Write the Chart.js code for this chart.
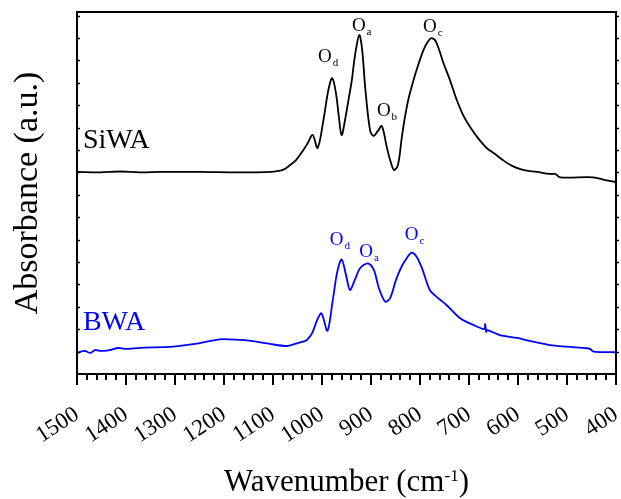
<!DOCTYPE html>
<html><head><meta charset="utf-8">
<script src="https://cdn.jsdelivr.net/npm/chart.js@4"></script>
<style>html,body{margin:0;padding:0;background:#fff}canvas{display:block}</style>
</head><body>
<canvas id="c" width="621" height="499"></canvas>
<script>
// ---- Data ----
const seriesNames = ['SiWA', 'BWA'];
const seriesColors = ['#000000', '#0000ff'];

const siwaWavenumber = [1500,1453,1412,1371,1331,1249,1167,1106,1080,1065,1053,1038,1029,1019,1009,997,987,979,971,966,960,953,946,939,933,924,918,912,902,895,886,878,868,861,853,845,837,831,824,816,807,793,783,776,767,752,739,725,712,698,682,664,647,631,612,590,561,535,524,514,447,422,400];
const siwaAbsorbance = [9.02,9.00,9.04,9.00,9.02,9.02,9.00,9.02,9.11,9.33,9.55,10.0,10.31,10.67,10.09,11.34,12.68,13.2,12.46,11.56,10.67,11.34,12.23,13.13,14.17,15.13,14.46,12.83,10.89,10.63,10.85,11.07,10.15,9.55,9.11,9.33,10.59,11.43,12.23,12.9,13.57,14.46,14.87,14.99,14.82,13.87,13.13,12.23,11.56,11.04,10.54,10.09,9.82,9.55,9.29,9.11,9.02,8.93,8.93,8.78,8.78,8.66,8.57];

const bwaWavenumber = [1500,1484,1473,1463,1453,1433,1416,1402,1371,1304,1249,1208,1167,1141,1106,1071,1055,1041,1031,1020,1010,1001,989,978,969,960,951,943,933,922,906,894,884,871,861,849,837,824,817,808,796,780,763,746,718,691,669,667,665,663,637,602,569,535,501,460,453,446,400];
const bwaAbsorbance = [0.94,1.03,0.94,1.07,1.03,1.07,1.16,1.12,1.17,1.22,1.38,1.55,1.52,1.47,1.34,1.25,1.34,1.43,1.52,1.83,2.41,2.71,1.93,3.3,4.55,5.12,4.42,3.75,4.2,4.73,4.94,4.64,3.84,3.23,3.39,4.2,4.82,5.27,5.42,5.27,4.73,3.75,3.39,3.08,2.49,2.19,2.01,2.23,1.88,1.96,1.74,1.61,1.44,1.29,1.22,1.15,1.12,1.0,0.97];

const xTickLabels = [1500,1400,1300,1200,1100,1000,900,800,700,600,500,400];

// series name labels (anchor: wavenumber, absorbance of text baseline-left)
const nameLabelX = [1488, 1488];
const nameLabelY = [10.09, 1.96];

// peak labels
const peakMain = ['O','O','O','O','O','O','O'];
const peakSub  = ['d','a','b','c','d','a','c'];
const peakX    = [1008, 939, 888, 794, 984, 924, 831];
const peakY    = [13.93, 15.31, 11.52, 15.27, 5.76, 5.22, 5.98];
const peakSeries = [0,0,0,0,1,1,1];

const xMin = 400, xMax = 1500, yMin = 0, yMax = 16.16;

function toPts(xs, ys){ return xs.map((x,i)=>({x:x, y:ys[i]})); }

const SERIF = '"Liberation Serif", "Times New Roman", serif';

const decorPlugin = {
  id: 'decor',
  afterDraw(chart){
    const ctx = chart.ctx, a = chart.chartArea;
    const xs = chart.scales.x, ys = chart.scales.y;
    ctx.save();
    // frame
    ctx.strokeStyle = '#000'; ctx.lineWidth = 2;
    ctx.strokeRect(a.left, a.top, a.right - a.left, a.bottom - a.top);
    // bottom ticks
    ctx.lineWidth = 2;
    for (let v = xMin; v <= xMax; v += 20){
      const px = Math.round(xs.getPixelForValue(v));
      const len = (v % 100 === 0) ? 11 : 6;
      ctx.beginPath(); ctx.moveTo(px, a.bottom); ctx.lineTo(px, a.bottom + len); ctx.stroke();
    }
    // left / right ticks
    ctx.lineWidth = 1.5;
    for (let v = 1; v <= Math.floor(yMax); v++){
      const py = Math.round(ys.getPixelForValue(v)) + 0.5;
      ctx.beginPath(); ctx.moveTo(a.left, py); ctx.lineTo(a.left + 3, py); ctx.stroke();
      ctx.beginPath(); ctx.moveTo(a.right, py); ctx.lineTo(a.right + 3, py); ctx.stroke();
    }
    // series names
    ctx.textBaseline = 'alphabetic'; ctx.textAlign = 'left';
    ctx.font = '28px ' + SERIF;
    seriesNames.forEach((n,i)=>{
      ctx.fillStyle = seriesColors[i];
      ctx.fillText(n, xs.getPixelForValue(nameLabelX[i]), ys.getPixelForValue(nameLabelY[i]));
    });
    // peak labels
    peakMain.forEach((t,i)=>{
      const px = xs.getPixelForValue(peakX[i]), py = ys.getPixelForValue(peakY[i]);
      ctx.fillStyle = seriesColors[peakSeries[i]];
      ctx.font = '19px ' + SERIF;
      ctx.fillText(t, px, py);
      const w = ctx.measureText(t).width;
      ctx.font = '11px ' + SERIF;
      ctx.fillText(peakSub[i], px + w + 1, py + 4);
    });
    // axis titles
    ctx.fillStyle = '#000';
    // y title
    ctx.save();
    ctx.font = '34px ' + SERIF;
    ctx.translate(28, (a.top + a.bottom) / 2);
    ctx.rotate(-Math.PI/2);
    ctx.textAlign = 'center'; ctx.textBaseline = 'middle';
    ctx.fillText('Absorbance (a.u.)', 0, 0);
    ctx.restore();
    // x title with superscript
    const p1 = 'Wavenumber (cm', sup = '-1', p2 = ')';
    ctx.font = '31px ' + SERIF;
    const w1 = ctx.measureText(p1).width, w3 = ctx.measureText(p2).width;
    ctx.font = '17px ' + SERIF;
    const w2 = ctx.measureText(sup).width;
    const total = w1 + w2 + w3;
    let x0 = (a.left + a.right) / 2 - total / 2;
    const base = 491;
    ctx.textAlign = 'left'; ctx.textBaseline = 'alphabetic';
    ctx.font = '31px ' + SERIF; ctx.fillText(p1, x0, base);
    ctx.font = '17px ' + SERIF; ctx.fillText(sup, x0 + w1, base - 10);
    ctx.font = '31px ' + SERIF; ctx.fillText(p2, x0 + w1 + w2, base);
    ctx.restore();
  }
};

new Chart(document.getElementById('c'), {
  type: 'line',
  data: {
    datasets: [
      { label: seriesNames[0], data: toPts(siwaWavenumber, siwaAbsorbance), borderColor: seriesColors[0], borderWidth: 1.8, pointRadius: 0, tension: 0.35, fill: false },
      { label: seriesNames[1], data: toPts(bwaWavenumber, bwaAbsorbance), borderColor: seriesColors[1], borderWidth: 1.8, pointRadius: 0, tension: 0.3, fill: false }
    ]
  },
  options: {
    responsive: false,
    animation: false,
    devicePixelRatio: 1,
    layout: { padding: { left: 0, right: 5, top: 12, bottom: 0 } },
    plugins: { legend: { display: false }, tooltip: { enabled: false } },
    scales: {
      x: {
        type: 'linear', min: xMin, max: xMax, reverse: true,
        afterFit(s){ s.height = 125; s.paddingLeft = 0; s.paddingRight = 0; },
        afterBuildTicks(s){ s.ticks = xTickLabels.map(v=>({value:v})); },
        border: { display: false },
        grid: { display: true, drawOnChartArea: false, drawTicks: false, color: 'rgba(0,0,0,0)' },
        ticks: { autoSkip: false, minRotation: 33, maxRotation: 33, padding: 27, color: '#000', font: { family: SERIF, size: 23 }, callback: (v)=>String(v) },
        title: { display: false }
      },
      y: {
        type: 'linear', min: yMin, max: yMax,
        afterFit(s){ s.width = 77; },
        border: { display: false },
        grid: { display: false },
        ticks: { display: false },
        title: { display: false }
      }
    }
  },
  plugins: [decorPlugin]
});
</script>
</body></html>
